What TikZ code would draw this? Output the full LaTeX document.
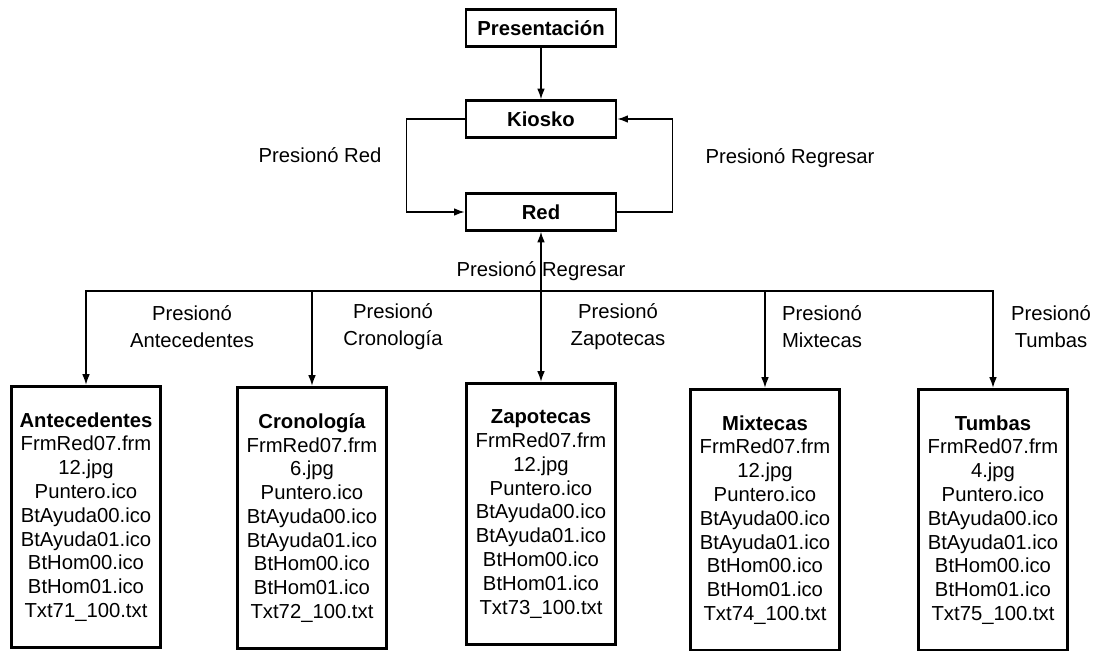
\documentclass[tikz,border=0pt]{standalone}
\usepackage{fontspec}
\setmainfont{Liberation Sans}
\usepackage{tikz}
\usetikzlibrary{arrows.meta,positioning}

\begin{document}
\begin{tikzpicture}[
  x=0.03cm, y=-0.03cm,
  every node/.style={font=\fontsize{17.3}{23}\selectfont},
  state/.style={draw, rectangle, line width=2.4pt, minimum width=4.5cm, minimum height=1.1cm, font=\fontsize{17.3}{23}\selectfont\bfseries},
  filebox/.style={draw, rectangle, line width=2.4pt, align=center, minimum width=4.45cm, minimum height=7.85cm, font=\fontsize{17.3}{20.3}\selectfont},
  lbl/.style={align=center},
  line/.style={draw, line width=1.1pt, -{Latex[length=9pt,width=6.5pt]}}
]
\useasboundingbox (0,0) rectangle (1107,651);

% Top states
\node[state] (pres) at (541,28) {Presentación};
\node[state] (kiosko) at (541,119) {Kiosko};
\node[state] (red) at (541,212) {Red};

% Screens
\node[filebox] (ante) at (86,517) {\textbf{Antecedentes}\\FrmRed07.frm\\12.jpg\\Puntero.ico\\BtAyuda00.ico\\BtAyuda01.ico\\BtHom00.ico\\BtHom01.ico\\Txt71\_100.txt};
\node[filebox] (crono) at (312,518) {\textbf{Cronología}\\FrmRed07.frm\\6.jpg\\Puntero.ico\\BtAyuda00.ico\\BtAyuda01.ico\\BtHom00.ico\\BtHom01.ico\\Txt72\_100.txt};
\node[filebox] (zapo) at (541,514) {\textbf{Zapotecas}\\FrmRed07.frm\\12.jpg\\Puntero.ico\\BtAyuda00.ico\\BtAyuda01.ico\\BtHom00.ico\\BtHom01.ico\\Txt73\_100.txt};
\node[filebox] (mixte) at (765,520) {\textbf{Mixtecas}\\FrmRed07.frm\\12.jpg\\Puntero.ico\\BtAyuda00.ico\\BtAyuda01.ico\\BtHom00.ico\\BtHom01.ico\\Txt74\_100.txt};
\node[filebox] (tumbas) at (993,520) {\textbf{Tumbas}\\FrmRed07.frm\\4.jpg\\Puntero.ico\\BtAyuda00.ico\\BtAyuda01.ico\\BtHom00.ico\\BtHom01.ico\\Txt75\_100.txt};

% Labels
\node (lred) at (320,155) {Presionó Red};
\node (lreg) at (790,158) {Presionó Regresar};
\node (lback) at (541,271) {Presionó Regresar};
\node[lbl] (lante) at (192,327) {Presionó\\Antecedentes};
\node[lbl] (lcrono) at (393,327) {Presionó\\Cronología};
\node[lbl] (lzapo) at (618,327) {Presionó\\Zapotecas};
\node[lbl] (lmixte) at (822,327) {Presionó\\Mixtecas};
\node[lbl] (ltumbas) at (1051,327) {Presionó\\Tumbas};

% Connectors
\coordinate (bus) at (541,291);
\draw[line] (pres.south) -- (kiosko.north);
\draw[line] (kiosko.west) -- ++(-58,0) |- (red.west);
\draw[line] (red.east) -- ++(55,0) |- (kiosko.east);
\draw[line] (bus) -- (red.south);

\draw[line] (bus) -| (ante.north);
\draw[line] (bus) -| (crono.north);
\draw[line] (bus) -- (zapo.north);
\draw[line] (bus) -| (mixte.north);
\draw[line] (bus) -| (tumbas.north);

\end{tikzpicture}
\end{document}
